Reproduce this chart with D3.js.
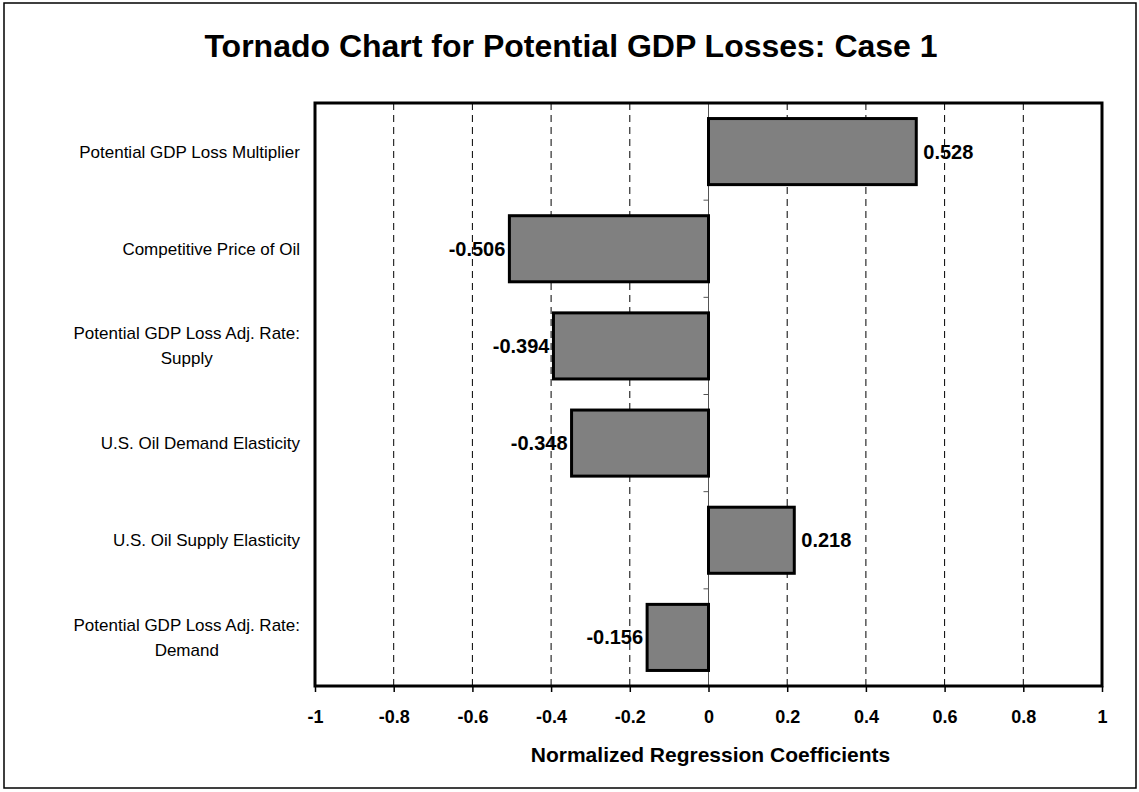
<!DOCTYPE html>
<html>
<head>
<meta charset="utf-8">
<script src="https://cdn.jsdelivr.net/npm/d3@7"></script>
<style>
  body { margin: 0; background: #fff; }
  text { font-family: Arial, "Liberation Sans", sans-serif; }
</style>
</head>
<body>
<div id="chart"></div>
<script>
// data
const categories = [
    ["Potential GDP Loss Multiplier"],
    ["Competitive Price of Oil"],
    ["Potential GDP Loss Adj. Rate:", "Supply"],
    ["U.S. Oil Demand Elasticity"],
    ["U.S. Oil Supply Elasticity"],
    ["Potential GDP Loss Adj. Rate:", "Demand"]
];
const coefficients = [0.528, -0.506, -0.394, -0.348, 0.218, -0.156];
const xTicks = [-1, -0.8, -0.6, -0.4, -0.2, 0, 0.2, 0.4, 0.6, 0.8, 1];

const W = 1139, H = 792;
const margin = {top: 103, right: 37, bottom: 106, left: 315};
const width = W - margin.left - margin.right;
const height = H - margin.top - margin.bottom;

// plain hyphen for negatives, like the original
const fmtVal = d => d3.format(".3f")(d).replace("\u2212", "-");
const fmtTick = d => String(d);

const svg = d3.select("#chart").append("svg")
    .attr("width", W)
    .attr("height", H);

// outer frame
svg.append("rect")
    .attr("x", 4).attr("y", 3)
    .attr("width", 1132).attr("height", 785)
    .attr("fill", "none")
    .attr("stroke", "#000")
    .attr("stroke-width", 1.5);

svg.append("text")
    .attr("x", 571).attr("y", 57)
    .attr("text-anchor", "middle")
    .style("font-size", "32px")
    .style("font-weight", "bold")
    .text("Tornado Chart for Potential GDP Losses: Case 1");

const g = svg.append("g")
    .attr("transform", `translate(${margin.left},${margin.top})`);

const x = d3.scaleLinear().domain([-1, 1]).range([0, width]);
const y = d3.scaleBand()
    .domain(d3.range(categories.length))
    .range([0, height])
    .paddingInner(0.32)
    .paddingOuter(0.16);

// dashed gridlines
g.selectAll(".grid")
    .data(xTicks.filter(d => d !== 0 && Math.abs(d) !== 1))
    .enter().append("line")
    .attr("class", "grid")
    .attr("x1", d => x(d)).attr("x2", d => x(d))
    .attr("y1", 0).attr("y2", height)
    .attr("stroke", "#000")
    .attr("stroke-width", 1)
    .attr("stroke-dasharray", "7,5");

// category axis at zero
const band = height / categories.length;
g.append("line")
    .attr("x1", x(0)).attr("x2", x(0))
    .attr("y1", 0).attr("y2", height)
    .attr("stroke", "#555")
    .attr("stroke-width", 1);
g.selectAll(".ctick")
    .data(d3.range(categories.length + 1))
    .enter().append("line")
    .attr("x1", x(0) - 5).attr("x2", x(0))
    .attr("y1", d => d * band).attr("y2", d => d * band)
    .attr("stroke", "#555");

// bars
g.selectAll(".bar")
    .data(coefficients)
    .enter().append("rect")
    .attr("class", "bar")
    .attr("x", d => x(Math.min(0, d)))
    .attr("y", (d, i) => y(i))
    .attr("width", d => Math.abs(x(d) - x(0)))
    .attr("height", y.bandwidth())
    .attr("fill", "#808080")
    .attr("stroke", "#000")
    .attr("stroke-width", 3);

// value labels
g.selectAll(".val")
    .data(coefficients)
    .enter().append("text")
    .attr("x", d => d >= 0 ? x(d) + 7 : x(d) - 4)
    .attr("y", (d, i) => y(i) + y.bandwidth() / 2)
    .attr("dy", "0.35em")
    .attr("text-anchor", d => d >= 0 ? "start" : "end")
    .style("font-size", "20px")
    .style("font-weight", "bold")
    .text(fmtVal);

// plot frame
g.append("rect")
    .attr("width", width).attr("height", height)
    .attr("fill", "none")
    .attr("stroke", "#000")
    .attr("stroke-width", 3);

// x axis
const xAxis = g.append("g")
    .attr("transform", `translate(0,${height})`)
    .call(d3.axisBottom(x).tickValues(xTicks).tickSize(6).tickFormat(fmtTick));
xAxis.select(".domain").remove();
xAxis.selectAll("line").attr("stroke", "#000").attr("stroke-width", 1.5);
xAxis.selectAll("text")
    .attr("y", 24)
    .style("font-size", "18px")
    .style("font-weight", "bold")
    .attr("fill", "#000");

svg.append("text")
    .attr("x", margin.left + x(0) + 2)
    .attr("y", 762)
    .attr("text-anchor", "middle")
    .style("font-size", "21px")
    .style("font-weight", "bold")
    .text("Normalized Regression Coefficients");

// category labels, centred lines in a right-aligned block
const labels = svg.selectAll(".cat")
    .data(categories)
    .enter().append("text")
    .attr("class", "cat")
    .style("font-size", "17px")
    .attr("fill", "#000");

labels.each(function(lines, i) {
    const t = d3.select(this);
    lines.forEach(s => {
        t.append("tspan").text(s);
    });
    const widths = [];
    t.selectAll("tspan").each(function() { widths.push(this.getComputedTextLength()); });
    const cx = 300 - d3.max(widths) / 2;
    const cy = margin.top + y(i) + y.bandwidth() / 2;
    const lh = 25;
    t.attr("text-anchor", "middle");
    t.selectAll("tspan")
        .attr("x", cx)
        .attr("y", (d, j) => cy + (j - (lines.length - 1) / 2) * lh)
        .attr("dy", "0.35em");
});
</script>
</body>
</html>
